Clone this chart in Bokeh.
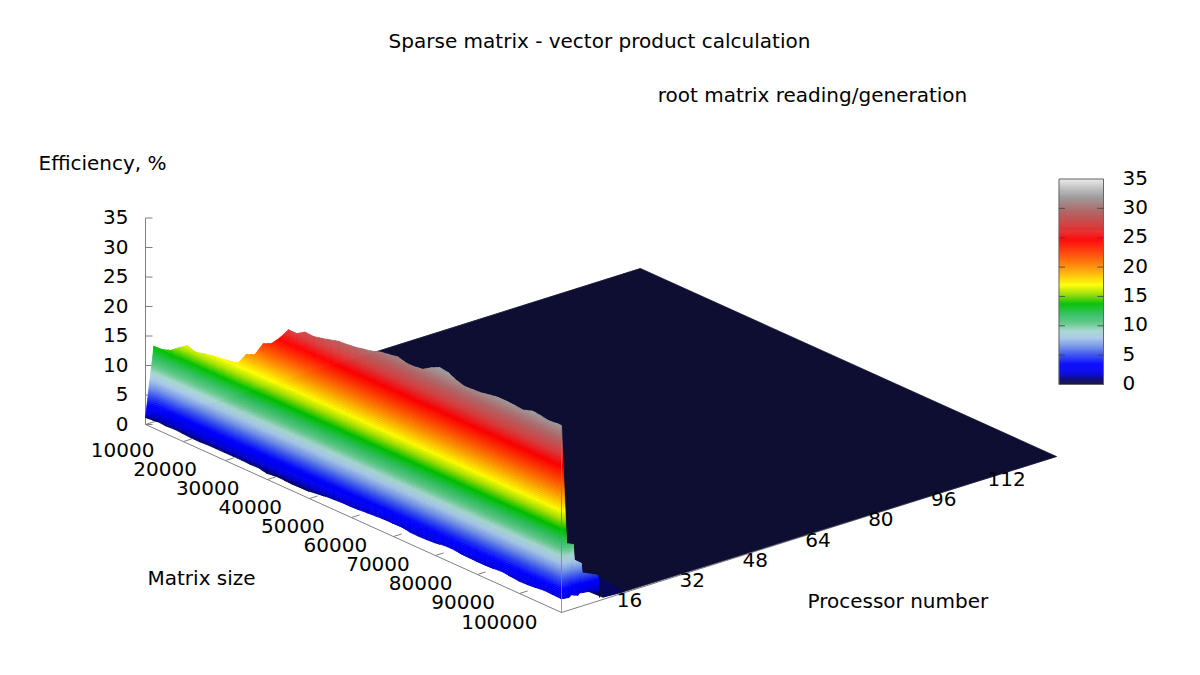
from bokeh.plotting import figure
from bokeh.embed import file_html
from bokeh.resources import INLINE
from bokeh.core.properties import value
import math

# ---- data ----
matrix_size = [1000 + 2000 * k for k in range(50)] + [100000]
eff_p1 = [1.2, 13.9, 14.0, 14.5, 15.6, 16.6, 16.1, 16.5, 16.8, 17.0, 17.2, 17.5, 19.6, 20.2, 22.7, 23.4,
          25.0, 27.0, 27.0, 27.9, 27.8, 28.1, 28.5, 28.9, 29.0, 29.2, 29.5, 29.8, 30.3, 30.5, 30.8,
          30.4, 30.4, 30.6, 31.5, 32.2, 32.0, 31.3, 30.9, 31.0, 31.1, 31.4, 31.6, 31.6, 31.5, 31.4,
          31.9, 31.8, 31.5, 31.7, 31.7]
eff_p2 = [1.3, 0.9, 0.8, 0.9, 0.8, 0.7, 0.7, 0.8, 0.8, 0.8, 0.8, 0.8, 0.75, 0.8, 0.5, 0.7, 0.7, 0.6, 0.65,
          0.7, 0.9, 1.1, 1.2, 1.3, 1.3, 1.4, 1.5, 1.6, 1.7, 1.7, 1.75, 1.5, 1.45, 1.5, 1.6, 1.85, 1.9,
          1.75, 1.7, 1.65, 1.65, 1.75, 1.85, 1.7, 1.55, 1.6, 1.75, 1.9, 1.85, 1.8]
# last rows of the surface, behind the ridge (size 100000 and 99000)
tail_proc = [2.3, 4.0, 4.3, 6.0, 6.3, 10.2, 10.7]
tail_top = [11.4, 10.9, 8.2, 7.3, 5.6, 4.4, 0.5]
tail_low_proc = [2.0, 3.9, 4.6, 6.2, 6.7, 9.5, 11.8]
tail_low = [1.8, 1.6, 1.9, 1.5, 1.8, 1.5, 0.3]
wedge = [(94000, 17, 0.7), (100000, 11.5, 0.4), (100000, 17, 0.2)]

size_ticks = [10000, 20000, 30000, 40000, 50000, 60000, 70000, 80000, 90000, 100000]
proc_ticks = [16, 32, 48, 64, 80, 96, 112]
z_ticks = [0, 5, 10, 15, 20, 25, 30, 35]

SIZE_MIN, SIZE_MAX = 1000, 100000
PROC_MIN, PROC_MAX = 1, 127
Z_MAX = 35

palette_z = [0, 1.0, 1.6, 2.5, 3.5, 5, 6.5, 8, 9.2, 10.5, 12, 13.8, 15.5, 17, 20, 22.5, 24.7, 27, 29.5, 32, 35]
palette_rgb = ["#0e0e33", "#00007a", "#0000c8", "#0000f0", "#0000ff", "#3048f0", "#7090e8", "#a8c8e8", "#a8d8d0",
               "#60c888", "#30c060", "#00c000", "#a0e000", "#ffff00", "#ff9000", "#ff4000", "#ff0000",
               "#d84040", "#b06868", "#a0a0a0", "#e8e8e8"]


def color(z):
    z = max(0, min(Z_MAX, z))
    for i in range(len(palette_z) - 1):
        if z <= palette_z[i + 1]:
            t = (z - palette_z[i]) / (palette_z[i + 1] - palette_z[i])
            a, b = palette_rgb[i], palette_rgb[i + 1]
            c = [round(int(a[j:j + 2], 16) * (1 - t) + int(b[j:j + 2], 16) * t) for j in (1, 3, 5)]
            return "#%02x%02x%02x" % tuple(c)
    return palette_rgb[-1]


# the view: page pixel of the front corner and of the edge vectors
CORNER = (145.0, 424.0)
SIZE_VEC = (416.0, 188.0)
PROC_VEC = (495.0, -156.0)
Z_UNIT = 5.9


def project(size, proc, z):
    a = (size - SIZE_MIN) / (SIZE_MAX - SIZE_MIN)
    b = (proc - PROC_MIN) / (PROC_MAX - PROC_MIN)
    return (CORNER[0] + a * SIZE_VEC[0] + b * PROC_VEC[0],
            CORNER[1] + a * SIZE_VEC[1] + b * PROC_VEC[1] - z * Z_UNIT)


p = figure(width=1184, height=659, x_range=(0, 1184), y_range=(659, 0), output_backend="svg",
           toolbar_location=None, min_border=0)
p.axis.visible = False
p.grid.visible = False
p.outline_line_color = None
p.background_fill_color = "white"
p.border_fill_color = "white"

AX = "#808080"


def seg(pts, col=AX, w=1.0, alpha=1.0):
    p.line([q[0] for q in pts], [q[1] for q in pts], line_color=col, line_width=w, line_alpha=alpha)


# floor border and axes
seg([project(SIZE_MIN, PROC_MIN, 0), project(SIZE_MAX, PROC_MIN, 0), project(SIZE_MAX, PROC_MAX, 0)])
seg([project(SIZE_MIN, PROC_MIN, 0), project(SIZE_MIN, PROC_MAX, 0)])
seg([project(SIZE_MIN, PROC_MIN, 0), project(SIZE_MIN, PROC_MIN, Z_MAX)])
for s in size_ticks[:-1]:
    seg([project(s, PROC_MIN, 0), project(s, PROC_MIN + 2.1, 0)])
for z in z_ticks:
    x0, y0 = project(SIZE_MIN, PROC_MIN, z)
    seg([(x0, y0), (x0 + 7, y0)])

# collected surface pieces, drawn back to front
xs, ys, cols = [], [], []


def add(pts, z):
    xs.append([q[0] for q in pts])
    ys.append([q[1] for q in pts])
    cols.append(color(z))


# flat zero plane
add([project(SIZE_MIN, 2, eff_p2[0]), project(SIZE_MIN, 20, 0), project(SIZE_MIN, PROC_MAX, 0),
     project(SIZE_MAX, PROC_MAX, 0), project(SIZE_MAX, 17, 0.2), project(SIZE_MAX, 11.5, 0.4)], 0)
add([project(*q) for q in wedge], 0.55)

STEP = 0.35


def clip(poly, level, keep_above):
    out = []
    for i in range(len(poly)):
        a, b = poly[i], poly[(i + 1) % len(poly)]
        ina = (a[2] >= level) == keep_above
        inb = (b[2] >= level) == keep_above
        if ina:
            out.append(a)
        if ina != inb:
            t = (level - a[2]) / (b[2] - a[2])
            out.append(tuple(a[j] + (b[j] - a[j]) * t for j in range(3)))
    return out


def tri(c0, c1, c2):
    """Cut one surface triangle, corners (size, proc, z), into bands of equal height."""
    poly = [project(*c) + (c[2],) for c in (c0, c1, c2)]
    lo, hi = min(q[2] for q in poly), max(q[2] for q in poly)
    k = math.floor(lo / STEP)
    while k * STEP < hi:
        band = clip(clip(poly, k * STEP, True), (k + 1) * STEP, False)
        if len(band) >= 3:
            add(band, (k + 0.5) * STEP)
        k += 1


def quad3d(a, b, c, d):
    tri(a, b, c)
    tri(a, c, d)


# sawtooth columns behind the ridge at the largest matrix size
S1, S0 = matrix_size[-1], matrix_size[-2]
for i in range(len(tail_proc) - 1):
    quad3d((S1, tail_proc[i], tail_top[i]), (S1, tail_proc[i + 1], tail_top[i + 1]),
           (S0, tail_low_proc[i + 1], tail_low[i + 1]), (S0, tail_low_proc[i], tail_low[i]))

# the ridge: from the one-processor row back to the two-processor row
for i in range(len(matrix_size) - 1):
    s0, s1 = matrix_size[i], matrix_size[i + 1]
    if i + 1 == len(matrix_size) - 1:
        b1 = (s1, tail_proc[0], tail_top[0])
    else:
        b1 = (s1, 2, eff_p2[i + 1])
    quad3d((s0, 1, eff_p1[i]), (s1, 1, eff_p1[i + 1]), b1, (s0, 2, eff_p2[i]))

p.patches(xs, ys, fill_color=cols, line_color=cols, line_width=0.7)

# near vertical edge at the front corner
seg([project(SIZE_MAX, PROC_MIN, 0), project(SIZE_MAX, PROC_MIN, eff_p1[-1])], alpha=0.8)

# colour box
BOX_L, BOX_R, BOX_B, BOX_T = 1058.5, 1103.0, 384.0, 178.5


def box_y(z):
    return BOX_B + (BOX_T - BOX_B) * z / Z_MAX


n = 206
levels = [Z_MAX * (i + 0.5) / n for i in range(n)]
p.quad(left=BOX_L, right=BOX_R, bottom=[box_y(v - 0.5 * Z_MAX / n) for v in levels],
       top=[box_y(v + 0.5 * Z_MAX / n) for v in levels], fill_color=[color(v) for v in levels],
       line_color=[color(v) for v in levels], line_width=0.5)
seg([(BOX_L, BOX_B), (BOX_R, BOX_B), (BOX_R, BOX_T), (BOX_L, BOX_T), (BOX_L, BOX_B)], col="#666666")
for z in z_ticks[1:-1]:
    seg([(BOX_L, box_y(z)), (BOX_L + 6, box_y(z))], col="#404040", alpha=0.8)
    seg([(BOX_R - 6, box_y(z)), (BOX_R, box_y(z))], col="#404040", alpha=0.8)


def label(x, y, txt, align="left"):
    p.text(x=x, y=y, text=[txt] if isinstance(txt, str) else txt, text_font=value("DejaVu Sans"),
           text_font_size=value("20px"), text_color="black", text_align=align, text_baseline="middle")


label([599], [40], "Sparse matrix - vector product calculation", "center")
label([812], [94], "root matrix reading/generation", "center")
label([38], [162], "Efficiency, %")
label([147], [577], "Matrix size")
label([807], [600], "Processor number")

label([project(SIZE_MIN, PROC_MIN, z)[0] - 17 for z in z_ticks],
      [project(SIZE_MIN, PROC_MIN, z)[1] - 1 for z in z_ticks], [str(z) for z in z_ticks], "right")
label([1122] * len(z_ticks), [box_y(z) - 1.5 for z in z_ticks], [str(z) for z in z_ticks])
label([project(s, PROC_MIN, 0)[0] - 24 - (SIZE_MAX - s) / 10000 * 0.55 for s in size_ticks],
      [project(s, PROC_MIN, 0)[1] + 9 - (SIZE_MAX - s) / 10000 * 0.11 for s in size_ticks],
      [str(s) for s in size_ticks], "right")
label([project(SIZE_MAX, t, 0)[0] + 9 for t in proc_ticks],
      [project(SIZE_MAX, t, 0)[1] + 6 - (t - 16) / 48 for t in proc_ticks], [str(t) for t in proc_ticks], "center")

open("out.html", "w").write(file_html(p, INLINE))
